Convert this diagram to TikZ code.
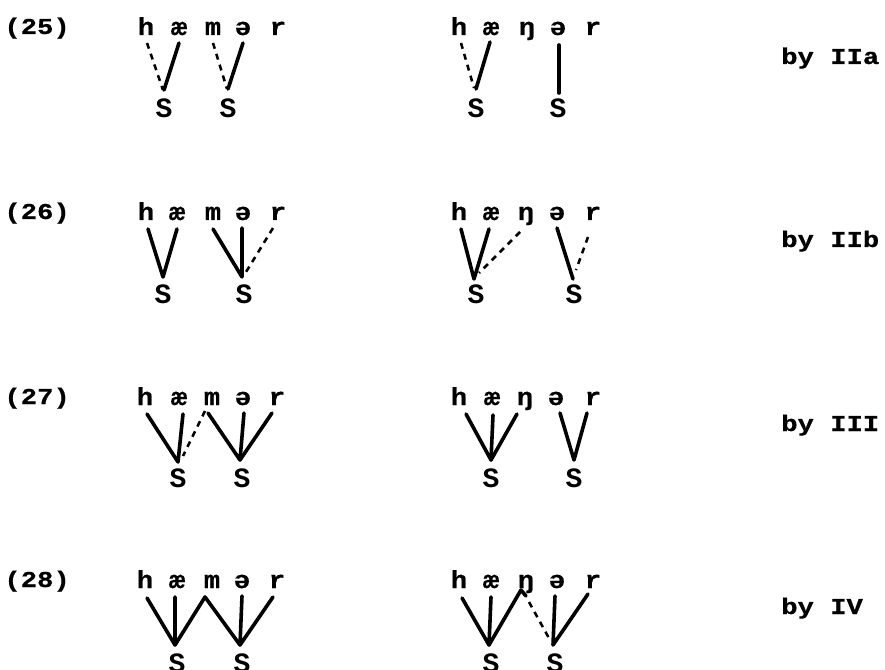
\documentclass[tikz,border=0pt]{standalone}
\usepackage{fontspec}
\newfontfamily\tw{Liberation Mono}[FakeStretch=1.2,FakeBold=0.6]
\newfontfamily\tl{Liberation Mono}[FakeStretch=1.1,FakeBold=0.5]
\newfontfamily\ts{Liberation Mono}
\begin{document}
\begin{tikzpicture}[x=0.75pt,y=-0.75pt,
  txt/.style={inner sep=0pt,font=\tw\bfseries\fontsize{17}{20}\selectfont},
  let/.style={inner sep=0pt,anchor=base,font=\tl\bfseries\fontsize{18.5}{20}\selectfont},
  ess/.style={inner sep=0pt,anchor=base,font=\ts\bfseries\fontsize{21}{22}\selectfont},
  lab/.style={txt,anchor=base east},
  rule/.style={txt,anchor=base west},
  link/.style={line width=2.7pt,line cap=round},
  dlink/.style={line width=1.9pt,dash pattern=on 4.5pt off 4pt}]
\fill[white] (0,0) rectangle (885,670);
\useasboundingbox (0,0) rectangle (885,670);

% ---------- labels
\node[lab] (n25) at (70,34) {(25)};
\node[lab] (n26) at (70,219) {(26)};
\node[lab] (n27) at (70,404) {(27)};
\node[lab] (n28) at (70,587) {(28)};
\node[rule] (r25) at (781,64) {by IIa};
\node[rule] (r26) at (781,247) {by IIb};
\node[rule] (r27) at (781,431) {by III};
\node[rule] (r28) at (781,614) {by IV};

% ---------- row 25
\node[let] (hA25) at (146,35) {h};
\node[let] (aeA25) at (179,35) {æ};
\node[let] (mA25) at (213,35) {m};
\node[let] (schA25) at (243,35) {ə};
\node[let] (rA25) at (278,35) {r};
\node[ess] (SA25a) at (164,118) {S};
\node[ess] (SA25b) at (228,118) {S};
\coordinate (pA25a) at (164,90);
\coordinate (pA25b) at (228,89);
\draw[dlink] ([shift={(1,8)}]hA25.base) -- ([shift={(-1,0)}]pA25a);
\draw[link] ([shift={(0,8)}]aeA25.base) -- (pA25a);
\draw[dlink] ([shift={(0,8)}]mA25.base) -- ([shift={(-1,0)}]pA25b);
\draw[link] ([shift={(0,8)}]schA25.base) -- (pA25b);

\node[let] (hB25) at (459,35) {h};
\node[let] (aeB25) at (491,35) {æ};
\node[let] (ngB25) at (527,35) {ŋ};
\node[let] (schB25) at (558,35) {ə};
\node[let] (rB25) at (593,35) {r};
\node[ess] (SB25a) at (476,118) {S};
\node[ess] (SB25b) at (558,118) {S};
\coordinate (pB25a) at (476,89);
\coordinate (pB25b) at (559,93);
\draw[dlink] ([shift={(2,8)}]hB25.base) -- ([shift={(-2,-1)}]pB25a);
\draw[link] ([shift={(-1,7)}]aeB25.base) -- (pB25a);
\draw[link] ([shift={(1,10)}]schB25.base) -- (pB25b);

% ---------- row 26
\node[let] (hA26) at (146,220) {h};
\node[let] (aeA26) at (177,220) {æ};
\node[let] (mA26) at (213,220) {m};
\node[let] (schA26) at (243,220) {ə};
\node[let] (rA26) at (278,220) {r};
\node[ess] (SA26a) at (163,303) {S};
\node[ess] (SA26b) at (244,303) {S};
\coordinate (pA26a) at (163,277);
\coordinate (pA26b) at (242,277);
\draw[link,line join=round] ([shift={(2,9)}]hA26.base) -- (pA26a) -- ([shift={(0,9)}]aeA26.base);
\draw[link,line join=round] ([shift={(0,9)}]mA26.base) -- (pA26b) -- ([shift={(-1,8)}]schA26.base);
\draw[dlink] ([shift={(-5,8)}]rA26.base) -- ([shift={(4,-5)}]pA26b);

\node[let] (hB26) at (459,220) {h};
\node[let] (aeB26) at (491,220) {æ};
\node[let] (ngB26) at (526,220) {ŋ};
\node[let] (schB26) at (557,220) {ə};
\node[let] (rB26) at (593,220) {r};
\node[ess] (SB26a) at (476,303) {S};
\node[ess] (SB26b) at (574,303) {S};
\coordinate (pB26a) at (474,279);
\coordinate (pB26b) at (573,279);
\draw[link,line join=round] ([shift={(2,9)}]hB26.base) -- (pB26a) -- ([shift={(-2,9)}]aeB26.base);
\draw[dlink] ([shift={(-6,12)}]ngB26.base) -- ([shift={(5,-6)}]pB26a);
\draw[link] ([shift={(0,8)}]schB26.base) -- (pB26b);
\draw[dlink] ([shift={(-5,17)}]rB26.base) -- ([shift={(3,-9)}]pB26b);

% ---------- row 27
\node[let] (hA27) at (145,405) {h};
\node[let] (aeA27) at (179,405) {æ};
\node[let] (mA27) at (212,405) {m};
\node[let] (schA27) at (243,405) {ə};
\node[let] (rA27) at (277,405) {r};
\node[ess] (SA27a) at (178,487) {S};
\node[ess] (SA27b) at (242,487) {S};
\coordinate (pA27a) at (178,462);
\coordinate (pA27b) at (240,460);
\draw[link,line join=round] ([shift={(2,9)}]hA27.base) -- (pA27a) -- ([shift={(4,9)}]aeA27.base);
\draw[dlink] ([shift={(-7,6)}]mA27.base) -- ([shift={(5,-6)}]pA27a);
\draw[link,line join=round] ([shift={(-4,8)}]mA27.base) -- (pA27b) -- ([shift={(1,8)}]schA27.base);
\draw[link] ([shift={(-5,8)}]rA27.base) -- (pA27b);

\node[let] (hB27) at (459,405) {h};
\node[let] (aeB27) at (492,405) {æ};
\node[let] (ngB27) at (525,405) {ŋ};
\node[let] (schB27) at (556,405) {ə};
\node[let] (rB27) at (593,405) {r};
\node[ess] (SB27a) at (491,487) {S};
\node[ess] (SB27b) at (574,487) {S};
\coordinate (pB27a) at (491,460);
\coordinate (pB27b) at (574,460);
\draw[link,line join=round] ([shift={(7,9)}]hB27.base) -- (pB27a) -- ([shift={(1,10)}]aeB27.base);
\draw[link] ([shift={(-8,9)}]ngB27.base) -- (pB27a);
\draw[link,line join=round] ([shift={(4,8)}]schB27.base) -- (pB27b) -- ([shift={(-6,8)}]rB27.base);

% ---------- row 28
\node[let] (hA28) at (145,588) {h};
\node[let] (aeA28) at (177,588) {æ};
\node[let] (mA28) at (212,588) {m};
\node[let] (schA28) at (242,588) {ə};
\node[let] (rA28) at (277,588) {r};
\node[ess] (SA28a) at (177,672) {S};
\node[ess] (SA28b) at (242,672) {S};
\coordinate (pA28a) at (175,645);
\coordinate (pA28b) at (240,645);
\draw[link,line join=round] ([shift={(2,10)}]hA28.base) -- (pA28a) -- ([shift={(-2,9)}]aeA28.base);
\draw[link,line join=round] (pA28a) -- ([shift={(-7,9)}]mA28.base) -- (pA28b);
\draw[link,line join=round] ([shift={(0,8)}]schA28.base) -- (pA28b) -- ([shift={(-4,9)}]rA28.base);

\node[let] (hB28) at (459,588) {h};
\node[let] (aeB28) at (491,588) {æ};
\node[let] (ngB28) at (526,588) {ŋ};
\node[let] (schB28) at (557,588) {ə};
\node[let] (rB28) at (593,588) {r};
\node[ess] (SB28a) at (491,672) {S};
\node[ess] (SB28b) at (555,672) {S};
\coordinate (pB28a) at (489,645);
\coordinate (pB28b) at (553,645);
\draw[link,line join=round] ([shift={(3,10)}]hB28.base) -- (pB28a) -- ([shift={(0,9)}]aeB28.base);
\draw[link,line join=round] (pB28a) -- ([shift={(-5,2)}]ngB28.base) -- ([shift={(0,8)}]ngB28.base);
\draw[dlink] ([shift={(3,14)}]ngB28.base) -- ([shift={(-3,-5)}]pB28b);
\draw[link,line join=round] ([shift={(-2,8)}]schB28.base) -- (pB28b) -- ([shift={(-5,6)}]rB28.base);
\end{tikzpicture}
\end{document}
